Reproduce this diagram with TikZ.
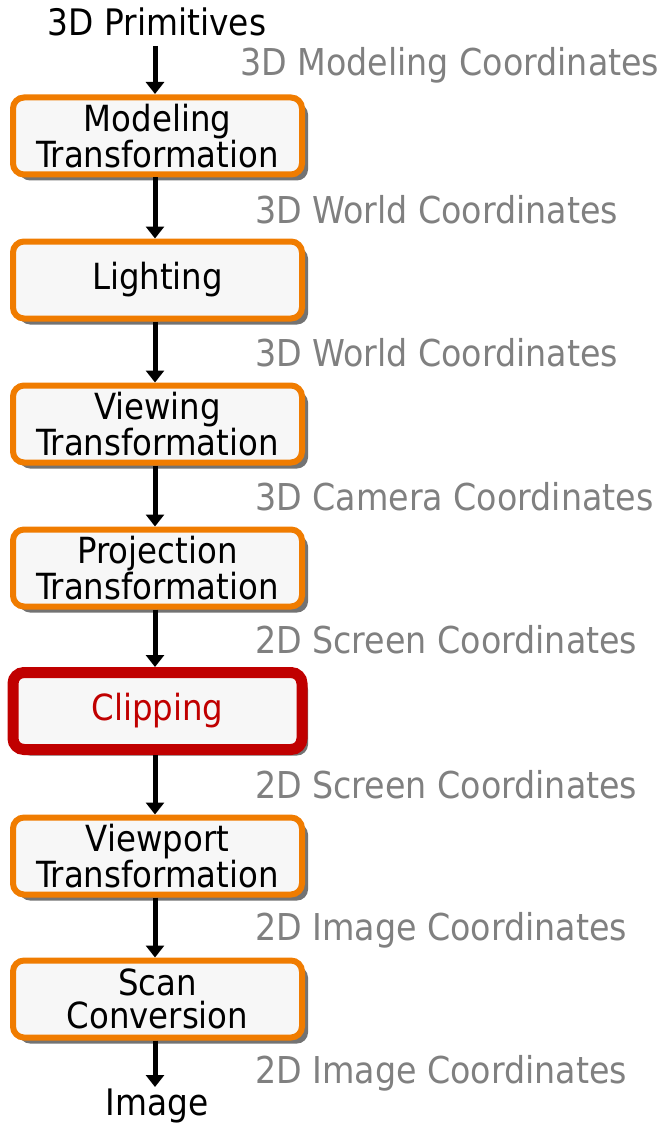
\documentclass[tikz,border=0pt]{standalone}
\usepackage{fontspec}
\setmainfont{DejaVu Sans Condensed}
\usetikzlibrary{arrows.meta,shadows}
\definecolor{orangeb}{RGB}{240,124,0}
\definecolor{redb}{RGB}{192,0,0}
\definecolor{labgray}{RGB}{128,128,128}
\definecolor{boxfill}{RGB}{247,247,247}
\definecolor{shad}{RGB}{115,115,115}
\begin{document}
\begin{tikzpicture}[x=1pt,y=-1pt,
  stage/.style={draw=orangeb, line width=6pt, fill=boxfill, rounded corners=11pt,
    minimum width=289pt, minimum height=77pt, inner sep=0pt, align=center,
    font=\fontsize{36}{33}\selectfont,
    drop shadow={shadow xshift=6pt, shadow yshift=-6pt, fill=shad, opacity=1}},
  hot/.style={stage, draw=redb, line width=11pt, text=redb},
  coord/.style={anchor=west, text=labgray, font=\fontsize{37}{37}\selectfont, inner sep=0pt},
  plain/.style={font=\fontsize{36.5}{36}\selectfont, inner sep=0pt},
  flow/.style={-{Triangle[length=12pt,width=18pt]}, line width=5pt}]
\useasboundingbox (0,0) rectangle (663,1126);
\node[plain] (prim) at (157,22) {3D Primitives};
\node[stage] (model) at (157.5,136) {Modeling\\Transformation};
\node[stage] (light) at (157.5,280) {Lighting};
\node[stage] (view) at (157.5,424) {Viewing\\Transformation};
\node[stage] (proj) at (157.5,568) {Projection\\Transformation};
\node[hot] (clip) at (157.5,711) {Clipping};
\node[stage] (port) at (157.5,856) {Viewport\\Transformation};
\node[stage] (scan) at (157.5,999) {Scan\\Conversion};
\node[plain] (img) at (157,1106) {Image};
\node[coord] (c1) at (240,65) {3D Modeling Coordinates};
\node[coord] (c2) at (255,210) {3D World Coordinates};
\node[coord] (c3) at (255,353) {3D World Coordinates};
\node[coord] (c4) at (255,497) {3D Camera Coordinates};
\node[coord] (c5) at (255,640) {2D Screen Coordinates};
\node[coord] (c6) at (255,785) {2D Screen Coordinates};
\node[coord] (c7) at (255,930) {2D Image Coordinates};
\node[coord] (c8) at (255,1073) {2D Image Coordinates};
\coordinate (a0) at (155,46);
\coordinate (a0e) at (155,94);
\draw[flow] (a0) -- (a0e);
\foreach \u/\v in {model/light, light/view, view/proj, proj/clip, clip/port, port/scan}{
  \draw[flow] ([xshift=-2.5pt]\u.south) -- ([xshift=-2.5pt]\v.north);
}
\coordinate (ze) at (155,1087);
\draw[flow] ([xshift=-2.5pt]scan.south) -- (ze);
\end{tikzpicture}
\end{document}
